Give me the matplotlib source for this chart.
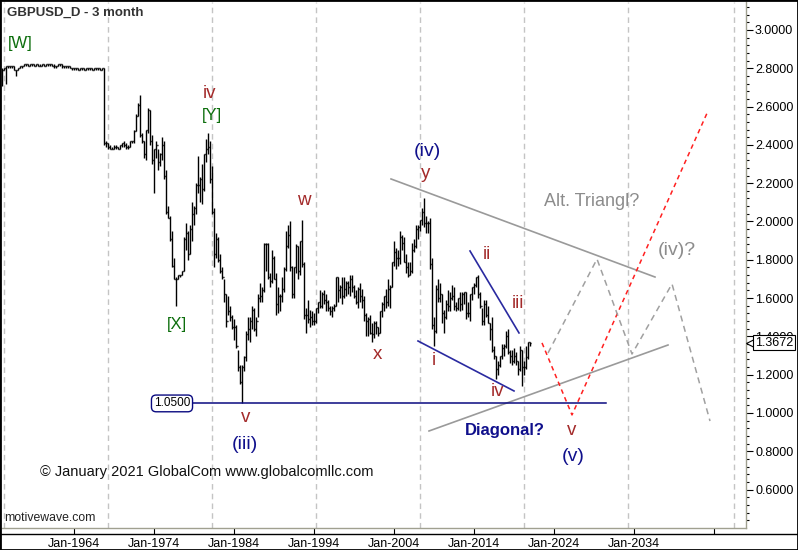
import numpy as np
import matplotlib.pyplot as plt
import matplotlib.transforms as mtransforms
from matplotlib.patches import Rectangle
from matplotlib.lines import Line2D

plt.rcParams['font.family'] = ['Liberation Sans', 'DejaVu Sans']

# quarterly GBPUSD bars, first bar = Q1 1955
start_year = 1955
q_high = [
    2.80, 2.80, 2.81, 2.81,  2.81, 2.81, 2.81, 2.79,  2.80, 2.81, 2.81, 2.82,  # 1955-57
    2.82, 2.82, 2.82, 2.82,  2.82, 2.82, 2.82, 2.82,  2.82, 2.82, 2.82, 2.82,  # 1958-60
    2.82, 2.82, 2.82, 2.81,  2.82, 2.82, 2.82, 2.81,  2.81, 2.81, 2.81, 2.80,  # 1961-63
    2.80, 2.80, 2.80, 2.80,  2.80, 2.80, 2.80, 2.80,  2.80, 2.80, 2.80, 2.80,  # 1964-66
    2.80, 2.80, 2.80, 2.80,  2.42, 2.41, 2.40, 2.39,  2.40, 2.40, 2.39, 2.40,  # 1967-69
    2.41, 2.42, 2.41, 2.40,  2.42, 2.42, 2.48, 2.56,  2.62, 2.66, 2.46, 2.42,  # 1970-72
    2.48, 2.59, 2.58, 2.45,  2.38, 2.42, 2.38, 2.36,  2.44, 2.42, 2.27, 2.08,  # 1973-75
    2.03, 1.95, 1.81, 1.71,  1.72, 1.72, 1.74, 1.92,  1.99, 1.95, 1.98, 2.10,  # 1976-78
    2.08, 2.20, 2.34, 2.23,  2.30, 2.35, 2.43, 2.46,  2.42, 2.29, 2.07, 1.94,  # 1979-81
    1.92, 1.83, 1.76, 1.70,  1.62, 1.61, 1.56, 1.51,  1.49, 1.46, 1.33, 1.25,  # 1982-84
    1.25, 1.30, 1.43, 1.50,  1.50, 1.56, 1.55, 1.50,  1.62, 1.68, 1.66, 1.89,  # 1985-87
    1.89, 1.89, 1.73, 1.85,  1.82, 1.73, 1.66, 1.62,  1.71, 1.76, 1.95, 1.98,  # 1988-90
    2.00, 1.77, 1.76, 1.88,  1.87, 1.90, 2.01, 1.79,  1.55, 1.59, 1.54, 1.53,  # 1991-93
    1.52, 1.55, 1.58, 1.64,  1.63, 1.64, 1.62, 1.59,  1.56, 1.56, 1.57, 1.71,  # 1994-96
    1.71, 1.67, 1.71, 1.71,  1.69, 1.69, 1.72, 1.72,  1.67, 1.64, 1.66, 1.68,  # 1997-99
    1.65, 1.61, 1.52, 1.50,  1.51, 1.47, 1.48, 1.48,  1.45, 1.53, 1.58, 1.61,  # 2000-02
    1.65, 1.70, 1.67, 1.79,  1.90, 1.86, 1.85, 1.95,  1.93, 1.92, 1.83, 1.79,  # 2003-05
    1.79, 1.89, 1.91, 1.98,  1.98, 2.01, 2.07, 2.12,  2.03, 2.00, 2.02, 1.81,  # 2006-08
    1.50, 1.67, 1.70, 1.68,  1.62, 1.54, 1.59, 1.64,  1.63, 1.67, 1.66, 1.58,  # 2009-11
    1.60, 1.63, 1.63, 1.63,  1.63, 1.58, 1.62, 1.66,  1.68, 1.71, 1.72, 1.63,  # 2012-14
    1.55, 1.59, 1.59, 1.56,  1.47, 1.50, 1.35, 1.30,  1.27, 1.30, 1.36, 1.36,  # 2015-17
    1.43, 1.44, 1.33, 1.33,  1.34, 1.32, 1.27, 1.35,  1.33, 1.27, 1.35, 1.37,  # 2018-20
    1.37,                                                                      # 2021
]
q_low = [
    2.71, 2.79, 2.72, 2.80,  2.80, 2.80, 2.79, 2.76,  2.79, 2.80, 2.80, 2.81,
    2.81, 2.81, 2.81, 2.81,  2.81, 2.81, 2.81, 2.81,  2.81, 2.81, 2.81, 2.81,
    2.81, 2.81, 2.80, 2.80,  2.81, 2.81, 2.80, 2.80,  2.80, 2.80, 2.80, 2.79,
    2.79, 2.79, 2.79, 2.79,  2.79, 2.79, 2.79, 2.79,  2.79, 2.79, 2.79, 2.79,
    2.79, 2.79, 2.79, 2.40,  2.39, 2.38, 2.38, 2.38,  2.38, 2.38, 2.38, 2.38,
    2.39, 2.39, 2.38, 2.38,  2.39, 2.41, 2.41, 2.47,  2.55, 2.44, 2.41, 2.33,
    2.32, 2.46, 2.40, 2.30,  2.15, 2.33, 2.27, 2.29,  2.32, 2.22, 2.04, 2.02,
    1.90, 1.76, 1.70, 1.56,  1.70, 1.71, 1.72, 1.74,  1.85, 1.80, 1.83, 1.90,
    1.98, 2.04, 2.15, 2.10,  2.09, 2.16, 2.31, 2.35,  2.20, 2.04, 1.76, 1.81,
    1.79, 1.73, 1.70, 1.58,  1.45, 1.51, 1.48, 1.44,  1.38, 1.34, 1.22, 1.15,
    1.05, 1.22, 1.27, 1.38,  1.37, 1.44, 1.43, 1.40,  1.50, 1.58, 1.58, 1.63,
    1.74, 1.70, 1.66, 1.68,  1.70, 1.51, 1.52, 1.53,  1.58, 1.63, 1.74, 1.86,
    1.74, 1.60, 1.60, 1.73,  1.70, 1.72, 1.76, 1.49,  1.42, 1.47, 1.45, 1.46,
    1.46, 1.47, 1.52, 1.55,  1.55, 1.57, 1.53, 1.53,  1.51, 1.50, 1.53, 1.56,
    1.58, 1.60, 1.57, 1.60,  1.61, 1.62, 1.61, 1.63,  1.60, 1.57, 1.55, 1.58,
    1.55, 1.48, 1.40, 1.40,  1.41, 1.37, 1.39, 1.41,  1.40, 1.42, 1.50, 1.53,
    1.55, 1.56, 1.55, 1.66,  1.77, 1.75, 1.77, 1.78,  1.85, 1.79, 1.73, 1.71,
    1.72, 1.73, 1.84, 1.86,  1.91, 1.95, 1.98, 1.97,  1.94, 1.94, 1.75, 1.44,
    1.35, 1.42, 1.58, 1.58,  1.47, 1.42, 1.49, 1.53,  1.53, 1.59, 1.54, 1.53,
    1.54, 1.53, 1.54, 1.57,  1.49, 1.50, 1.48, 1.59,  1.62, 1.66, 1.60, 1.55,
    1.46, 1.46, 1.50, 1.47,  1.38, 1.32, 1.28, 1.18,  1.20, 1.24, 1.28, 1.30,
    1.34, 1.31, 1.26, 1.25,  1.26, 1.25, 1.20, 1.22,  1.14, 1.20, 1.23, 1.28,
    1.35,
]
q_close = [
    2.79, 2.80, 2.81, 2.81,  2.81, 2.81, 2.79, 2.79,  2.80, 2.81, 2.81, 2.82,
    2.82, 2.81, 2.82, 2.82,  2.81, 2.82, 2.81, 2.81,  2.82, 2.81, 2.82, 2.82,
    2.82, 2.81, 2.81, 2.81,  2.82, 2.82, 2.81, 2.81,  2.81, 2.81, 2.80, 2.80,
    2.80, 2.80, 2.79, 2.80,  2.80, 2.79, 2.80, 2.80,  2.80, 2.79, 2.80, 2.80,
    2.80, 2.79, 2.80, 2.41,  2.41, 2.39, 2.38, 2.38,  2.39, 2.39, 2.38, 2.40,
    2.41, 2.40, 2.39, 2.39,  2.42, 2.42, 2.47, 2.55,  2.61, 2.45, 2.42, 2.35,
    2.48, 2.58, 2.42, 2.32,  2.38, 2.40, 2.31, 2.35,  2.40, 2.24, 2.05, 2.02,
    1.91, 1.77, 1.70, 1.70,  1.72, 1.72, 1.74, 1.91,  1.94, 1.83, 1.96, 2.04,
    2.07, 2.19, 2.19, 2.22,  2.17, 2.35, 2.38, 2.39,  2.22, 2.05, 1.83, 1.91,
    1.80, 1.74, 1.71, 1.62,  1.48, 1.53, 1.50, 1.45,  1.45, 1.35, 1.24, 1.16,
    1.24, 1.29, 1.41, 1.44,  1.48, 1.54, 1.44, 1.48,  1.60, 1.61, 1.64, 1.88,
    1.88, 1.71, 1.69, 1.81,  1.70, 1.57, 1.61, 1.61,  1.65, 1.75, 1.87, 1.93,
    1.76, 1.62, 1.76, 1.87,  1.74, 1.90, 1.78, 1.51,  1.51, 1.49, 1.50, 1.48,
    1.48, 1.55, 1.58, 1.56,  1.62, 1.59, 1.58, 1.55,  1.53, 1.55, 1.56, 1.71,
    1.64, 1.66, 1.61, 1.65,  1.68, 1.66, 1.70, 1.66,  1.61, 1.58, 1.65, 1.61,
    1.59, 1.51, 1.48, 1.49,  1.42, 1.41, 1.47, 1.45,  1.42, 1.53, 1.57, 1.61,
    1.58, 1.65, 1.66, 1.79,  1.84, 1.81, 1.81, 1.92,  1.89, 1.79, 1.76, 1.72,
    1.74, 1.85, 1.87, 1.96,  1.97, 2.01, 2.05, 1.99,  1.99, 1.99, 1.78, 1.46,
    1.43, 1.65, 1.60, 1.62,  1.52, 1.50, 1.57, 1.56,  1.60, 1.61, 1.56, 1.55,
    1.60, 1.57, 1.62, 1.63,  1.52, 1.52, 1.62, 1.66,  1.67, 1.71, 1.62, 1.56,
    1.48, 1.57, 1.51, 1.47,  1.44, 1.33, 1.30, 1.23,  1.25, 1.30, 1.34, 1.35,
    1.40, 1.32, 1.30, 1.27,  1.30, 1.27, 1.23, 1.33,  1.24, 1.24, 1.29, 1.37,
    1.3672,
]

# x axis
year_ticks = [1964, 1974, 1984, 1994, 2004, 2014, 2024, 2034, 2044]
year_labels = ['Jan-1964', 'Jan-1974', 'Jan-1984', 'Jan-1994', 'Jan-2004',
               'Jan-2014', 'Jan-2024', 'Jan-2034', '']
grid_years = [1955.25, 1968.25, 1981.25, 1994.25, 2007.25, 2020.25, 2033.25, 2046.5]
price_ticks = [0.6, 0.8, 1.0, 1.2, 1.4, 1.6, 1.8, 2.0, 2.2, 2.4, 2.6, 2.8, 3.0]

# drawn lines (date, price)
upper_tri_t = [2003.625, 2036.625]
upper_tri_p = [2.222, 1.710]
lower_tri_t = [2008.375, 2038.25]
lower_tri_p = [0.906, 1.355]
diag_top_t = [2013.5, 2019.625]
diag_top_p = [1.846, 1.418]
diag_bot_t = [2007.0, 2019.0]
diag_bot_p = [1.376, 1.115]
red_path_t = [2022.5, 2026.25, 2043.25]
red_path_p = [1.366, 0.99, 2.577]
alt_path_t = [2023.25, 2029.375, 2033.75, 2038.75, 2043.5]
alt_path_p = [1.313, 1.804, 1.308, 1.674, 0.958]
support_price = 1.05
support_t = [1976.25, 2030.5]

# wave labels (text, date, price, colour, size, weight)
green = '#0d6e0d'
red = '#a32a2a'
navy = '#10108c'
gray = '#8c8c8c'
labels = [
    ('[W]', 1957.25, 2.927, green, 12, 'normal'),
    ('iv', 1981.0, 2.666, red, 13.5, 'normal'),
    ('[Y]', 1981.25, 2.551, green, 12, 'normal'),
    ('[X]', 1976.875, 1.46, green, 12, 'normal'),
    ('w', 1992.75, 2.107, red, 13.5, 'normal'),
    ('v', 1985.5, 0.979, red, 13.5, 'normal'),
    ('(iii)', 1985.375, 0.838, navy, 14, 'normal'),
    ('(iv)', 2008.125, 2.363, navy, 14, 'normal'),
    ('y', 2008.0, 2.248, red, 13.5, 'normal'),
    ('x', 2001.875, 1.308, red, 13.5, 'normal'),
    ('i', 2009.0, 1.272, red, 13.5, 'normal'),
    ('ii', 2015.625, 1.83, red, 13.5, 'normal'),
    ('iii', 2019.5, 1.574, red, 13.5, 'normal'),
    ('iv', 2017.0, 1.11, red, 13.5, 'normal'),
    ('Diagonal?', 2017.875, 0.911, navy, 12, 'bold'),
    ('v', 2026.25, 0.906, red, 13.5, 'normal'),
    ('(v)', 2026.375, 0.775, navy, 14, 'normal'),
    ('Alt. Triangl?', 2028.75, 2.102, gray, 13, 'normal'),
    ('(iv)?', 2039.375, 1.851, gray, 14, 'normal'),
]

fig = plt.figure(figsize=(7.98, 5.50), dpi=100)
ax = fig.add_axes([2 / 798, 22 / 550, 744 / 798, 526 / 550])
ax.set_xlim(1955.0, 2048.0)
ax.set_ylim(0.3995, 3.146)

for g in grid_years:
    ax.axvline(g, color='#c4c4c4', lw=1, ls=(0, (4, 3)), zorder=0)

# OHLC bars
t = start_year + 0.25 * np.arange(len(q_close))
q_open = [q_close[0]] + q_close[:-1]
ax.vlines(t, q_low, q_high, color='black', lw=1.0)
ax.hlines(q_open, t - 0.125, t, color='black', lw=1.0)
ax.hlines(q_close, t, t + 0.125, color='black', lw=1.0)

# trend lines and projections
ax.plot(upper_tri_t, upper_tri_p, color='#9a9a9a', lw=1.2)
ax.plot(lower_tri_t, lower_tri_p, color='#9a9a9a', lw=1.2)
ax.plot(diag_top_t, diag_top_p, color='#2a2aa0', lw=1.2)
ax.plot(diag_bot_t, diag_bot_p, color='#2a2aa0', lw=1.2)
ax.plot(red_path_t, red_path_p, color='#ff2020', lw=1.1, ls=(0, (3, 2.5)))
ax.plot(alt_path_t, alt_path_p, color='#a0a0a0', lw=1.1, ls=(0, (4, 3)))
ax.plot(support_t, [support_price] * 2, color='#0a0a80', lw=1.1)
ax.text(support_t[0], support_price, '%.4f' % support_price, fontsize=8.5,
        ha='center', va='center', color='black',
        bbox=dict(boxstyle='round,pad=0.2,rounding_size=0.4', fc='white',
                  ec='#0a0a80', lw=1.0))

for txt, lt, lp, col, fs, fw in labels:
    ax.text(lt, lp, txt, color=col, fontsize=fs, fontweight=fw,
            ha='center', va='center')

ax.text(1959.75, 0.692, '\u00a9 January 2021 GlobalCom www.globalcomllc.com',
        fontsize=10.5, color='#111111', ha='left', va='center')
ax.text(0.003, 0.019, 'motivewave.com', transform=ax.transAxes, fontsize=8.8,
        color='#222222', ha='left', va='center')
ax.text(0.0067, 0.991, 'GBPUSD_D - 3 month', transform=ax.transAxes,
        fontsize=9.5, fontweight='bold', color='#333333', ha='left', va='top')

# axes styling
for s in ['top', 'left']:
    ax.spines[s].set_visible(False)
for s in ['right', 'bottom']:
    ax.spines[s].set_color('#a0a090')
    ax.spines[s].set_linewidth(1.0)
ax.set_xticks(year_ticks)
ax.set_xticklabels(year_labels)
ax.yaxis.tick_right()
ax.set_yticks(price_ticks)
ax.set_yticklabels(['%.4f' % p for p in price_ticks])
ax.set_yticks(np.arange(0.44, 3.13, 0.04), minor=True)
ax.tick_params(axis='y', which='major', direction='out', length=5, width=0.8,
               labelsize=9, pad=1.5, colors='black')
ax.tick_params(axis='y', which='minor', direction='out', length=2.5, width=0.8)
ax.tick_params(axis='x', which='major', direction='out', length=4, width=0.8,
               labelsize=9, pad=3, colors='black')

# last price tag
last_close = q_close[-1]
blend = mtransforms.blended_transform_factory(ax.transAxes, ax.transData)
tag_tr = mtransforms.offset_copy(blend, fig=fig, x=5, y=0, units='dots')
ax.plot([1.0], [last_close], marker='<', ms=7, mfc='white', mec='black',
        mew=0.8, transform=tag_tr, clip_on=False, zorder=5)
ax.text(1.0, last_close, '%.4f' % last_close, transform=mtransforms.offset_copy(
            blend, fig=fig, x=9, y=0, units='dots'),
        fontsize=9, ha='left', va='center', zorder=6,
        bbox=dict(boxstyle='square,pad=0.12', fc='white', ec='black', lw=0.8),
        clip_on=False)

# frame lines around the chart
fig.add_artist(Line2D([0, 1], [1 - 533.5 / 550] * 2, color='black', lw=1.0,
                      transform=fig.transFigure))
fig.add_artist(Rectangle((0, 0), 1, 1, transform=fig.transFigure, fill=False,
                         ec='black', lw=2.0))

fig.savefig('out.png', dpi=100, facecolor='white')
